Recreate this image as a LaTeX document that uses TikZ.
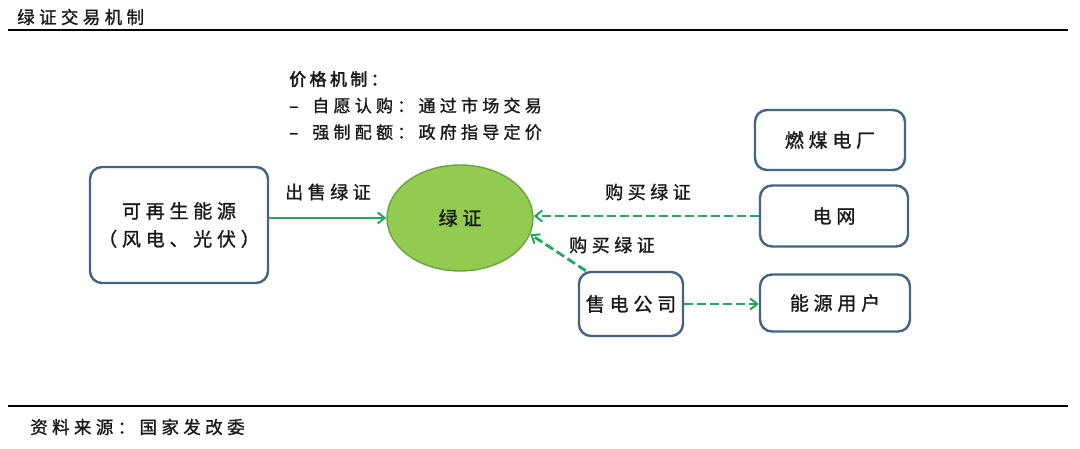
\documentclass[tikz,border=0pt]{standalone}
\usepackage{fontspec}
\setmainfont{Noto Sans CJK SC}[LetterSpace=25,FakeBold=1.2]
\newfontfamily\headfont{Noto Sans CJK SC}[LetterSpace=20,FakeBold=2.4]
\usetikzlibrary{shapes.geometric,arrows.meta,calc}
\definecolor{boxline}{RGB}{68,100,132}
\definecolor{certfill}{RGB}{146,203,80}
\definecolor{certline}{RGB}{104,165,58}
\definecolor{arrowgreen}{RGB}{34,168,96}
\definecolor{txt}{RGB}{25,25,25}
\tikzset{
  x=1pt,y=-1pt,
  actor/.style={draw=boxline,line width=2.4pt,rounded corners=12pt,fill=white,align=center,font=\fontsize{19}{28}\selectfont,inner sep=0pt,text=txt},
  lbl/.style={font=\fontsize{18}{22}\selectfont,inner sep=0pt,text=txt},
  solidarrow/.style={draw=arrowgreen,line width=2.6pt,-{Straight Barb[length=7pt,width=11pt,line width=2pt]}},
  dasharrow/.style={draw=arrowgreen,line width=2.8pt,dash pattern=on 9pt off 4pt,-{Straight Barb[length=7pt,width=11pt,line width=2pt]}},
  rule/.style={line width=1.6pt,black}
}
\begin{document}
\begin{tikzpicture}
\useasboundingbox (0,0) rectangle (1080,448);
\fill[white] (0,0) rectangle (1080,448);
% title and rules
\node[anchor=west,inner sep=0pt,text=txt,font=\fontsize{17.5}{20}\selectfont] (title) at (17,17) {绿证交易机制};
\coordinate (tl) at (8,30);
\coordinate (tr) at (1068,30);
\draw[rule] (tl) -- (tr);
\coordinate (bl) at (8,406);
\coordinate (br) at (1068,406);
\draw[rule] (bl) -- (br);
\node[anchor=west,inner sep=0pt,text=txt,font=\fontsize{17.5}{20}\selectfont] (src) at (30,427) {资料来源：国家发改委};
% price mechanism text
\node[anchor=north west,inner sep=0pt,align=left,text=txt,font=\fontsize{17}{26.5}\selectfont] (price) at (289,71)
  {{\headfont 价格机制：}\\–\hspace{14pt}自愿认购：通过市场交易\\–\hspace{14pt}强制配额：政府指导定价};
% nodes
\node[actor,minimum width=178pt,minimum height=116pt] (ren) at (179,225) {可再生能源\\（风电、光伏）};
\node[ellipse,draw=certline,line width=1.4pt,fill=certfill,minimum width=146pt,minimum height=106pt,inner sep=0pt,text=txt,font=\fontsize{19}{22}\selectfont] (cert) at (460,218) {绿证};
\node[actor,minimum width=150pt,minimum height=60pt] (coal) at (830,140) {燃煤电厂};
\node[actor,minimum width=148pt,minimum height=61pt] (grid) at (834,216) {电网};
\node[actor,minimum width=104pt,minimum height=64pt] (sell) at (631,304) {售电公司};
\node[actor,minimum width=150pt,minimum height=57pt] (user) at (835,303) {能源用户};
% connectors
\draw[solidarrow] (ren.east |- cert) -- (cert.west);
\node[lbl] (l1) at (328,192) {出售绿证};
\draw[dasharrow] (grid.west) -- (grid.west -| cert.east);
\node[lbl] (l2) at (648,192) {购买绿证};
\coordinate (sellnw) at ($(sell.north west)+(8,0)$);
\draw[dasharrow] (sellnw) -- (cert.-13);
\node[lbl] (l3) at (612,245) {购买绿证};
\draw[dasharrow] (sell.east) -- (sell.east -| user.west);
\end{tikzpicture}
\end{document}
